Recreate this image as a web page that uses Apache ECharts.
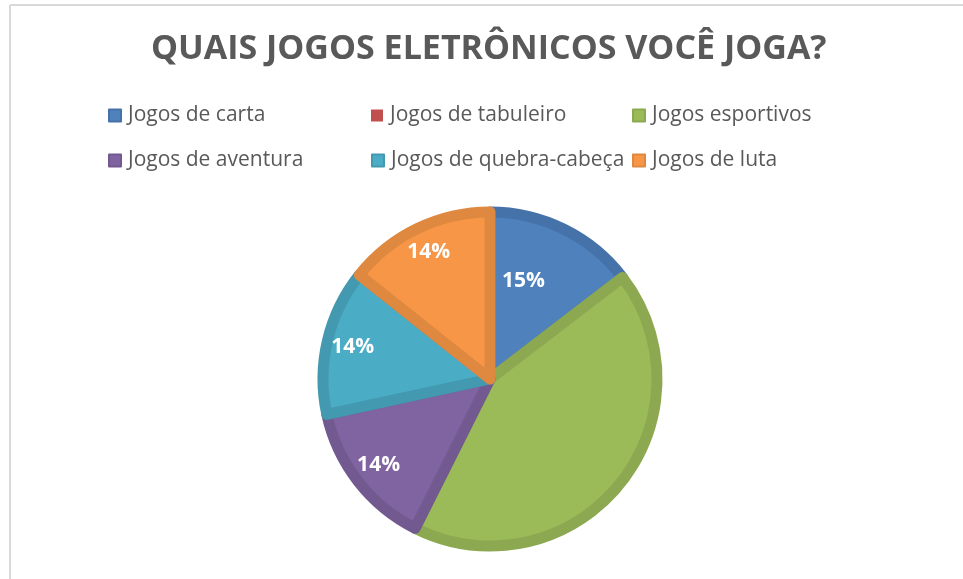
<!DOCTYPE html>
<html>
<head>
<meta charset="utf-8">
<script src="https://cdn.jsdelivr.net/npm/echarts@6/dist/echarts.min.js"></script>
<style>
  html, body { margin: 0; padding: 0; background: #fff; }
  #chart { width: 963px; height: 579px; }
</style>
</head>
<body>
<div id="chart"></div>
<script>
const titleText = "QUAIS JOGOS ELETRÔNICOS VOCÊ JOGA?";
const categories = [
  "Jogos de carta", "Jogos de tabuleiro", "Jogos esportivos",
  "Jogos de aventura", "Jogos de quebra-cabeça", "Jogos de luta",
];
const shares = [14.6, 0, 42.8, 14.2, 14.1, 14.3];
const fills = ["#4F81BD", "#C0504D", "#9BBB59", "#8064A2", "#4BACC6", "#F79646"];
const edges = ["#4672AA", "#AC4744", "#8CA951", "#725990", "#4399AF", "#DE8840"];
const hideLabel = [false, true, true, false, false, false];

const FONT = "'Open Sans', 'DejaVu Sans', sans-serif";
const legendX = [103, 366, 627];
const legendY = [100, 145];

const chart = echarts.init(document.getElementById("chart"), null, { renderer: "canvas" });

const legends = categories.map((name, i) => ({
  data: [name],
  left: legendX[i % 3],
  top: legendY[Math.floor(i / 3)],
  icon: "rect",
  itemWidth: 12,
  itemHeight: 12,
  selectedMode: false,
  textStyle: { fontFamily: FONT, fontSize: 21, color: "#595959", padding: [0, 0, 0, 2] },
}));

chart.setOption({
  animation: false,
  title: {
    text: titleText,
    left: 146,
    top: 27,
    textStyle: { fontFamily: FONT, fontSize: 34, fontWeight: "bold", color: "#595959" },
  },
  legend: legends,
  graphic: [
    { type: "line", shape: { x1: 10, y1: 5, x2: 963, y2: 5 }, style: { stroke: "#D9D9D9", lineWidth: 2 } },
    { type: "line", shape: { x1: 10, y1: 5, x2: 10, y2: 579 }, style: { stroke: "#D9D9D9", lineWidth: 2 } },
  ],
  series: [
    {
      type: "pie",
      center: [490, 379],
      radius: [0, 167],
      startAngle: 90,
      clockwise: true,
      silent: true,
      label: { show: false },
      labelLine: { show: false },
      data: categories.map((name, i) => ({
        name,
        value: shares[i],
        itemStyle: {
          color: fills[i],
          borderColor: edges[i],
          borderWidth: shares[i] > 0 ? 11 : 0,
          borderJoin: "round",
        },
      })),
    },
    {
      // transparent ring used only to place the percent labels
      type: "pie",
      center: [490, 379],
      radius: [106, 170],
      startAngle: 90,
      clockwise: true,
      silent: true,
      legendHoverLink: false,
      itemStyle: { color: "rgba(0,0,0,0)" },
      label: {
        show: true,
        position: "inside",
        fontFamily: FONT,
        fontSize: 21,
        fontWeight: "bold",
        color: "#FFFFFF",
        formatter: (p) => Math.round(p.percent) + "%",
      },
      labelLine: { show: false },
      data: categories.map((name, i) => ({
        name: name + " ",
        value: shares[i],
        label: i === 0
          ? { show: true, offset: [-29, 28] }
          : { show: !hideLabel[i] },
      })),
    },
  ],
});
</script>
</body>
</html>
